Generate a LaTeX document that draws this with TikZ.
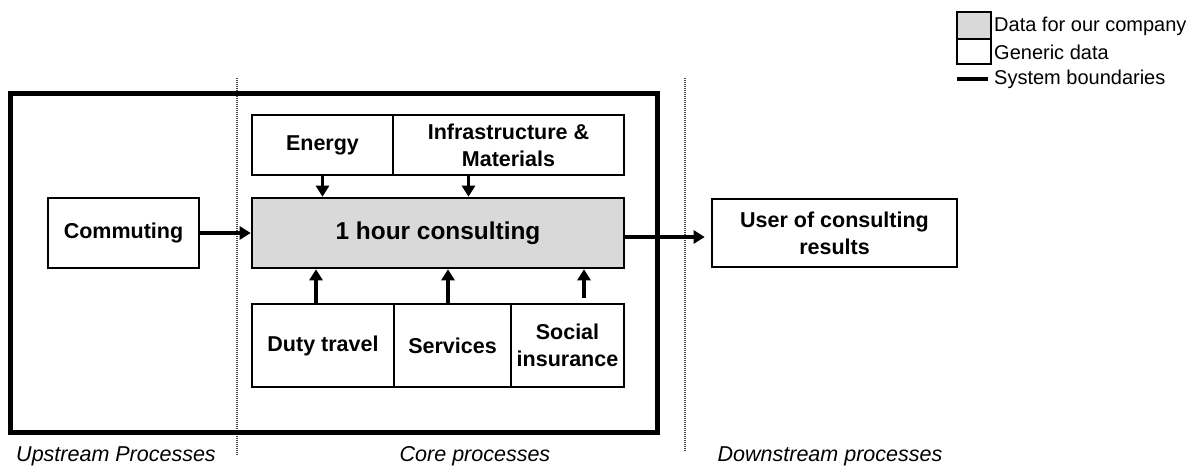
\documentclass[tikz,border=0pt]{standalone}
\usepackage{fontspec}
\setmainfont{Liberation Sans}
\usetikzlibrary{arrows.meta,calc}
\definecolor{corefill}{RGB}{217,217,217}
\begin{document}
\begin{tikzpicture}[x=1pt,y=-1pt,
  box/.style={draw=black,line width=2.6pt,rectangle,inner sep=1pt,align=center,
    font=\fontsize{21.5}{27}\selectfont\bfseries},
  arr/.style={line width=3.4pt,-{Triangle[length=11pt,width=13pt]}},
  sep/.style={line width=1.2pt,black!75,dash pattern=on 1pt off 1pt},
  phase/.style={font=\fontsize{21.5}{24}\selectfont\itshape},
  legtext/.style={anchor=west,inner sep=0pt,font=\fontsize{20}{22}\selectfont}]
\useasboundingbox (0,0) rectangle (1200,468);
% separators
\draw[sep] (237,78) -- (237,455);
\draw[sep] (685,78) -- (685,451);
% system boundary
\draw[line width=5pt] (10,94) rectangle (657,432);
% boxes
\node[box,minimum width=141pt,minimum height=60pt] (energy) at (322.5,145) {Energy};
\node[box,minimum width=231pt,minimum height=60pt] (infra) at (508.5,145) {Infrastructure \&\\Materials};
\node[box,fill=corefill,minimum width=372pt,minimum height=70pt,font=\fontsize{24.4}{28}\selectfont\bfseries] (main) at (438,233) {1 hour consulting};
\node[box,minimum width=151pt,minimum height=70pt] (commuting) at (123.5,233) {Commuting};
\node[box,minimum width=245pt,minimum height=68pt] (user) at (834.5,233) {User of consulting\\results};
\node[box,minimum width=142pt,minimum height=83pt] (duty) at (323,345.5) {Duty travel};
\node[box,minimum width=117pt,minimum height=83pt] (services) at (452.5,345.5) {Services};
\node[box,minimum width=113pt,minimum height=83pt] (social) at (567.5,345.5) {Social\\insurance};
% arrows
\draw[arr] (energy.south) -- (energy.south |- main.north);
\draw[arr] ([xshift=-40pt]infra.south) -- ([xshift=-40pt]infra.south |- main.north);
\draw[arr] ([xshift=-7pt]duty.north) -- ([xshift=-7pt]duty.north |- main.south);
\draw[arr] ([xshift=-4.5pt]services.north) -- ([xshift=-4.5pt]services.north |- main.south);
\coordinate (socstart) at ([xshift=16.5pt,yshift=5pt]social.north);
\draw[arr] (socstart) -- (socstart |- main.south);
\draw[arr] (commuting.east) -- (main.west);
\draw[arr,shorten >=6pt] ([yshift=-4pt]main.east) -- ([yshift=-4pt]main.east -| user.west);
% phase labels
\node[phase] (up) at (116,456) {Upstream Processes};
\node[phase] (core) at (475,456) {Core processes};
\node[phase] (down) at (830,456) {Downstream processes};
% legend
\draw[line width=2.2pt,fill=corefill] (957,12) rectangle (991,39);
\draw[line width=2.2pt,fill=white] (957,39) rectangle (991,64);
\draw[line width=3.5pt] (957,79) -- (988,79);
\node[legtext] (l1) at (994,26) {Data for our company};
\node[legtext] (l2) at (994,52) {Generic data};
\node[legtext] (l3) at (994,79) {System boundaries};
\end{tikzpicture}
\end{document}
